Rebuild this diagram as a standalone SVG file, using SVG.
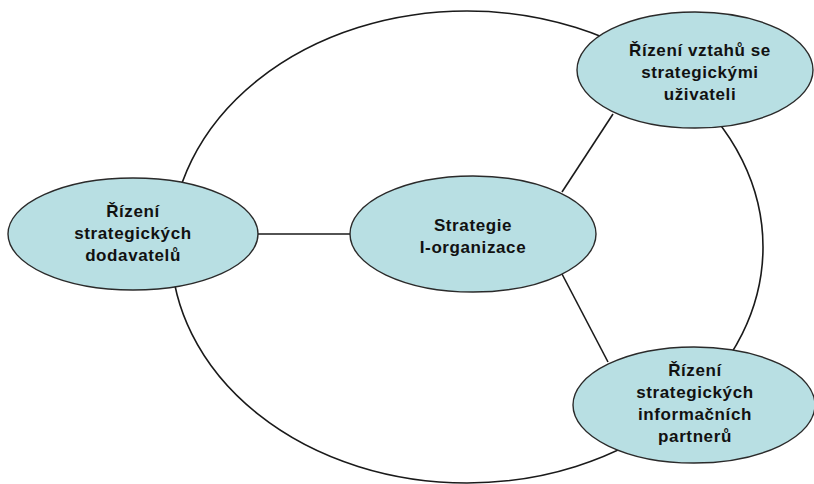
<svg xmlns="http://www.w3.org/2000/svg" width="814" height="484" viewBox="0 0 814 484">
<style>
.node ellipse{fill:#b8dfe3;stroke:#2a2a2a;stroke-width:1.4}
.conn line,.conn ellipse{fill:none;stroke:#1a1a1a;stroke-width:1.6}
text{font-family:"Liberation Sans",Arial,sans-serif;font-weight:bold;font-size:17px;fill:#111;text-anchor:middle;letter-spacing:0.6px}
</style>
<rect width="814" height="484" fill="#fff"/>
<g id="connectors" class="conn">
<ellipse cx="467" cy="247" rx="296" ry="236"/>
<line x1="257" y1="234" x2="351" y2="234"/>
<line x1="613" y1="114" x2="562" y2="192"/>
<line x1="562" y1="274" x2="608" y2="362"/>
</g>
<g id="node-left" class="node">
<ellipse cx="133" cy="234" rx="125" ry="56"/>
<text x="133" y="217">Řízení</text>
<text x="133" y="239">strategických</text>
<text x="133" y="261">dodavatelů</text>
</g>
<g id="node-center" class="node">
<ellipse cx="473" cy="234" rx="123" ry="58"/>
<text x="473" y="231">Strategie</text>
<text x="473" y="253">I-organizace</text>
</g>
<g id="node-topright" class="node">
<ellipse cx="695" cy="70" rx="118" ry="58"/>
<text x="700" y="56">Řízení vztahů se</text>
<text x="700" y="78">strategickými</text>
<text x="700" y="100">uživateli</text>
</g>
<g id="node-bottomright" class="node">
<ellipse cx="694" cy="405" rx="121" ry="58"/>
<text x="695" y="376">Řízení</text>
<text x="695" y="398">strategických</text>
<text x="695" y="420">informačních</text>
<text x="695" y="442">partnerů</text>
</g>
</svg>
